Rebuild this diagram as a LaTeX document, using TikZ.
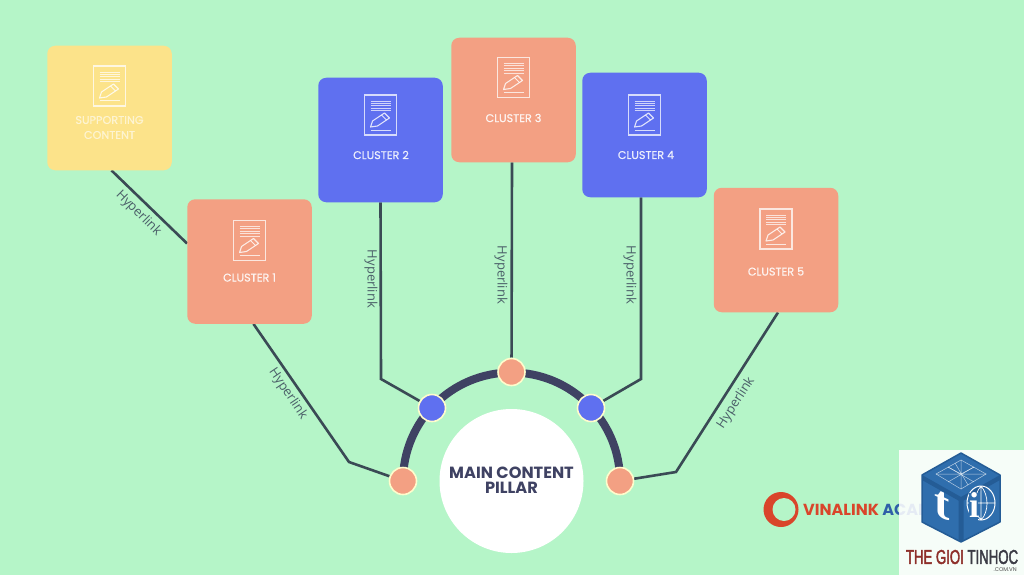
\documentclass[tikz,border=0pt]{standalone}
\usepackage{fontspec}
\setmainfont{Poppins}
\newfontfamily\cardfont[FakeBold=0.6]{Poppins}
\newfontfamily\linkfont{Open Sans}
\newfontfamily\narrowfont[FakeStretch=0.66,FakeBold=2]{Liberation Sans}
\newfontfamily\tfont[Ligatures=TeX]{Liberation Serif}
\usetikzlibrary{calc,backgrounds}
\definecolor{bgc}{HTML}{B5F5C8}
\definecolor{yel}{HTML}{FCE38A}
\definecolor{ora}{HTML}{F3A083}
\definecolor{blu}{HTML}{5F70F0}
\definecolor{lin}{HTML}{3A4A55}
\definecolor{nav}{HTML}{3F4263}
\definecolor{hyp}{HTML}{4B5F69}
\definecolor{vred}{HTML}{D9452B}
\definecolor{vblu}{HTML}{2F5FA8}
\definecolor{cube}{HTML}{2F6EAD}
\definecolor{cubed}{HTML}{245C96}
\tikzset{
  card/.style={rectangle,minimum size=124.5pt,rounded corners=8pt,inner sep=0pt},
  cardtext/.style={text=white,text opacity=.85,font=\cardfont\fontsize{11.2}{15}\selectfont,align=center,inner sep=0pt},
  conn/.style={draw=lin,line width=2.6pt,line join=miter},
  hub/.style={circle,minimum size=27pt,inner sep=0pt,draw=white!80!yellow,line width=1.6pt},
  linklabel/.style={text=hyp,font=\linkfont\fontsize{13}{13}\selectfont,inner sep=0pt},
  pics/docicon/.style={code={
    \draw[white,opacity=.75,line width=1.2pt] (-16,-20) rectangle (16,20);
    \foreach \yy in {-14,-11.6,-9.2,-6.8,-4.4}{\draw[white,opacity=.7,line width=.9pt] (-10,\yy) -- (10,\yy);}
    \draw[white,opacity=.8,line width=1.1pt,line join=round] (-10,12) -- (-8,6) -- (4,-2) -- (9,3) -- (-3,11) -- cycle;
    \draw[white,opacity=.8,line width=1pt] (1,0) -- (6,5);
    \draw[white,opacity=.75,line width=1pt] (-10,15) -- (10,15);
  }}
}
\begin{document}
\begin{tikzpicture}[x=1pt,y=-1pt]
\useasboundingbox (0,0) rectangle (1024,575);
% cards
\node[card,fill=yel] (sup) at (109.5,108) {};
\node[card,fill=ora] (c1) at (249.5,261.5) {};
\node[card,fill=blu] (c2) at (380.5,140) {};
\node[card,fill=ora] (c3) at (513.5,100) {};
\node[card,fill=blu] (c4) at (644.5,135) {};
\node[card,fill=ora] (c5) at (776,250) {};
\pic at (109.5,86) {docicon};
\pic at (249.5,240.5) {docicon};
\pic at (380.5,115) {docicon};
\pic at (513.5,77.5) {docicon};
\pic at (644.5,115) {docicon};
\pic at (776,229) {docicon};
\node[cardtext,text=white!70!yel] (tsup) at (109.5,127.5) {SUPPORTING\\CONTENT};
\node[cardtext] (t1) at (249.5,277.5) {CLUSTER 1};
\node[cardtext] (t2) at (381,155) {CLUSTER 2};
\node[cardtext] (t3) at (513.5,118) {CLUSTER 3};
\node[cardtext] (t4) at (646,155) {CLUSTER 4};
\node[cardtext] (t5) at (776,271.5) {CLUSTER 5};
% hub
\node[circle,fill=white,minimum size=144pt,inner sep=0pt] (main) at (511.5,481) {};
\node[text=nav,font=\fontsize{16.2}{15}\selectfont\bfseries,align=center,inner sep=0pt] (maint) at (511.5,480.5) {MAIN CONTENT\\PILLAR};
\node[hub,fill=ora] (d1) at (403,481) {};
\node[hub,fill=blu] (d2) at (432,408) {};
\node[hub,fill=ora] (d3) at (511.5,372) {};
\node[hub,fill=blu] (d4) at (591,408) {};
\node[hub,fill=ora] (d5) at (620,481) {};
% connectors behind
\begin{scope}[on background layer]
\fill[bgc] (0,0) rectangle (1024,575);
\draw[nav,line width=8pt] (d1.center) arc[start angle=180,end angle=360,radius=108.5];
\draw[conn] ($(sup.south)+(2,0)$) -- ($(c1.west)+(0,-18)$);
\draw[conn] ($(c1.south)+(4,0)$) -- (349,462) -- (d1);
\draw[conn] (c2.south) -- (381,379) -- (d2);
\draw[conn] ($(c3.south)+(-1.5,0)$) -- (d3);
\draw[conn] ($(c4.south)+(-3.5,0)$) -- (641,379) -- (d4);
\draw[conn] ($(c5.south)+(2,0)$) -- (676,472) -- (d5);
\end{scope}
\node[linklabel,rotate=-45] (h0) at (138.5,213.5) {Hyperlink};
\node[linklabel,rotate=-56] (h1) at (288,394) {Hyperlink};
\node[linklabel,rotate=-90] (h2) at (371,279) {Hyperlink};
\node[linklabel,rotate=-90] (h3) at (501,275) {Hyperlink};
\node[linklabel,rotate=-90] (h4) at (630,275) {Hyperlink};
\node[linklabel,rotate=57] (h5) at (736,403) {Hyperlink};
% Vinalink logo
\fill[vred] (781,509.5) circle (17.5);
\fill[bgc] (784,509.5) circle (11.5);
\node[anchor=west,inner sep=0pt,font=\fontsize{16}{16}\selectfont\bfseries] (vina) at (803,509.5) {\textcolor{vred}{VINALINK} \textcolor{vblu}{ACADEMY}};
% panel
\fill[white,opacity=.88] (899,450) rectangle (1024,575);
% cube
\fill[cube] (961,453) -- (1000,475) -- (1000,522) -- (961,542) -- (922,522) -- (922,475) -- cycle;
\fill[cubed] (961,497) -- (1000,475) -- (1000,480) -- (961,502) -- (922,480) -- (922,475) -- cycle;
\fill[cubed] (958.5,500) -- (961,497) -- (963.5,500) -- (963.5,540) -- (961,542) -- (958.5,540) -- cycle;
\draw[cubed,line width=1.5pt,line join=round] (961,453) -- (1000,475) -- (1000,522) -- (961,542) -- (922,522) -- (922,475) -- cycle;
\begin{scope}[white,opacity=.65,line width=.5pt]
\draw (961,460) -- (986,474) -- (961,489) -- (936,474) -- cycle;
\draw (948,467) -- (974,482) (974,467) -- (948,482) (936,474) -- (986,474) (961,460) -- (961,489);
\draw (948,467) -- (961,474) -- (974,467) (955,463) -- (968,485);
\end{scope}
\node[text=white,font=\tfont\fontsize{46}{46}\selectfont\bfseries,inner sep=0pt,yslant=-.45,transform shape] (lt) at (942,505) {t};
\draw[white,line width=1pt] (981,503) ellipse (14 and 17);
\draw[white,line width=.7pt] (981,486) -- (981,520) (967,503) -- (995,503) (981,486) .. controls (973,495) and (973,512) .. (981,520) (981,486) .. controls (989,495) and (989,512) .. (981,520);
\fill[cube] (969,493) rectangle (978,521);
\node[text=white,font=\tfont\fontsize{36}{36}\selectfont\bfseries,inner sep=0pt] (li) at (974,505) {i};
\node[inner sep=0pt,font=\narrowfont\fontsize{20}{20}\selectfont] (tg) at (962,557) {\textcolor[HTML]{8E2F2A}{THE GIOI} \textcolor[HTML]{3B3B45}{TINHOC}};
\node[inner sep=0pt,anchor=east,text=black!70,font=\fontsize{5.5}{5.5}\selectfont] (cv) at (1017,570) {.COM.VN};
\end{tikzpicture}
\end{document}
